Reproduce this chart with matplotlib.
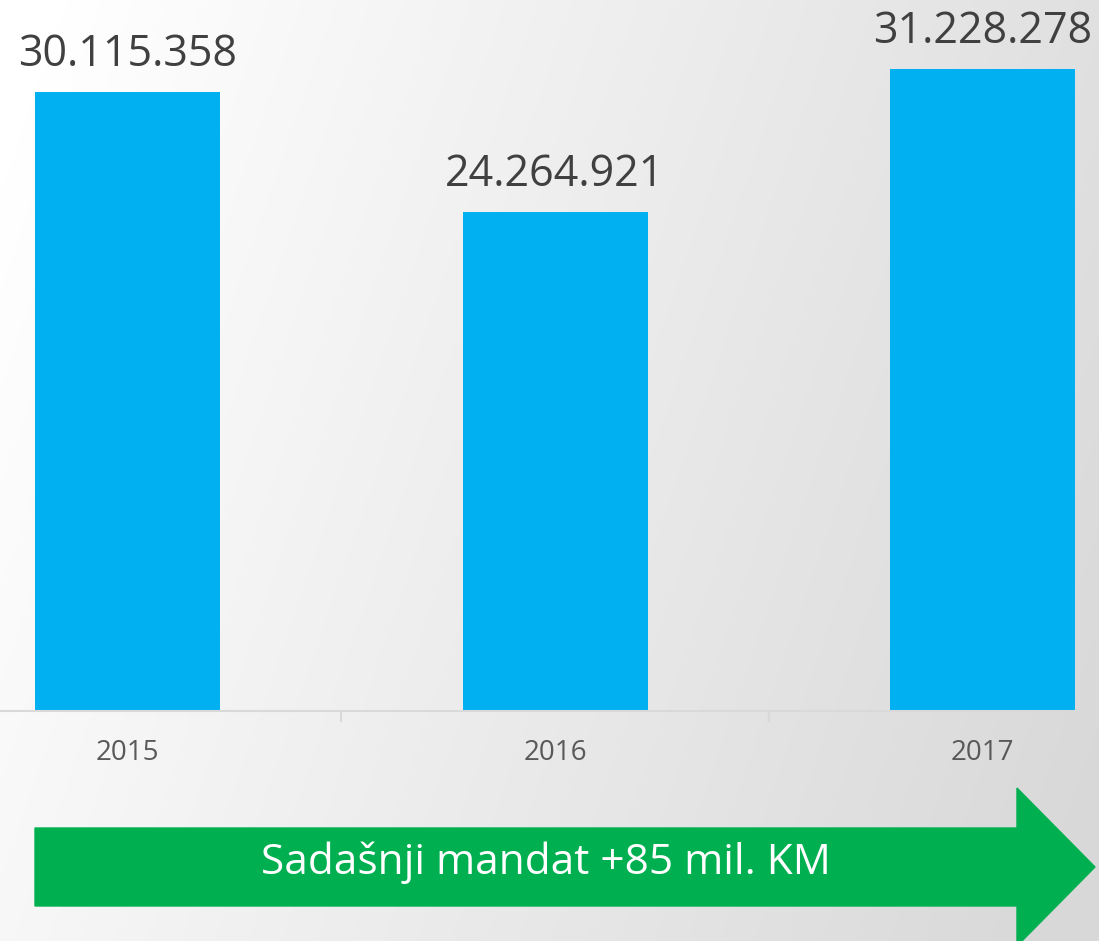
import matplotlib
matplotlib.use("Agg")
import matplotlib.pyplot as plt
import numpy as np
from matplotlib.patches import Polygon

years = ["2015", "2016", "2017"]
values = [30115358, 24264921, 31228278]
labels = ["30.115.358", "24.264.921", "31.228.278"]
arrow_text = "Sadašnji mandat +85 mil. KM"

W, H = 1099, 941
fig = plt.figure(figsize=(W / 100, H / 100), dpi=100)

# background gradient, white on the left to light grey on the right
bg = fig.add_axes([0, 0, 1, 1])
gx, gy = np.meshgrid(np.linspace(0, 1, 300), np.linspace(0, 1, 300))
shade = 1.0 - 0.15 * np.clip(0.85 * gx + 0.25 * gy - 0.05, 0, 1)
bg.imshow(np.dstack([shade] * 3), extent=[0, 1, 0, 1], aspect="auto", origin="upper")
bg.set_xlim(0, 1)
bg.set_ylim(0, 1)
bg.axis("off")

# chart area: baseline at 711 px from top
base = H - 711
ax = fig.add_axes([0, base / H, 1, 1 - base / H])
ax.patch.set_alpha(0)
px_per_unit = 619 / values[0]
x = np.arange(len(years))
step = 427.5
ax.set_xlim((0 - 127.5) / step, (W - 127.5) / step)
ax.set_ylim(0, 711 / px_per_unit)

ax.bar(x, values, width=185 / step, color="#00B0F0")
for xi, v, lab in zip(x, values, labels):
    ax.annotate(lab, (xi, v), xytext=(0, 11), textcoords="offset points",
                ha="center", va="bottom", fontsize=31, color="#404040",
                family="Open Sans")

for s in ["top", "right", "left"]:
    ax.spines[s].set_visible(False)
ax.spines["bottom"].set_color("#d9d9d9")
ax.spines["bottom"].set_linewidth(1.5)
ax.set_yticks([])
ax.set_xticks(x)
ax.set_xticklabels(years, family="Open Sans", fontsize=20, color="#595959")
ax.tick_params(axis="x", length=0, pad=20)
ax.set_xticks([0.5, 1.5], minor=True)
ax.tick_params(axis="x", which="minor", length=8, width=1.5, color="#d9d9d9")

# green arrow along the bottom
def fx(p):
    return p / W

def fy(p):
    return 1 - p / H

arrow = Polygon([(fx(35), fy(828)), (fx(1017), fy(828)), (fx(1017), fy(788)),
                 (fx(1095), fy(867)), (fx(1017), fy(946)), (fx(1017), fy(906)),
                 (fx(35), fy(906))], closed=True, color="#00B050",
                transform=fig.transFigure)
fig.patches.append(arrow)
fig.text(fx(546), fy(863), arrow_text, ha="center", va="center",
         fontsize=30.5, color="white", family="Open Sans")

fig.savefig("out.png", dpi=100)
